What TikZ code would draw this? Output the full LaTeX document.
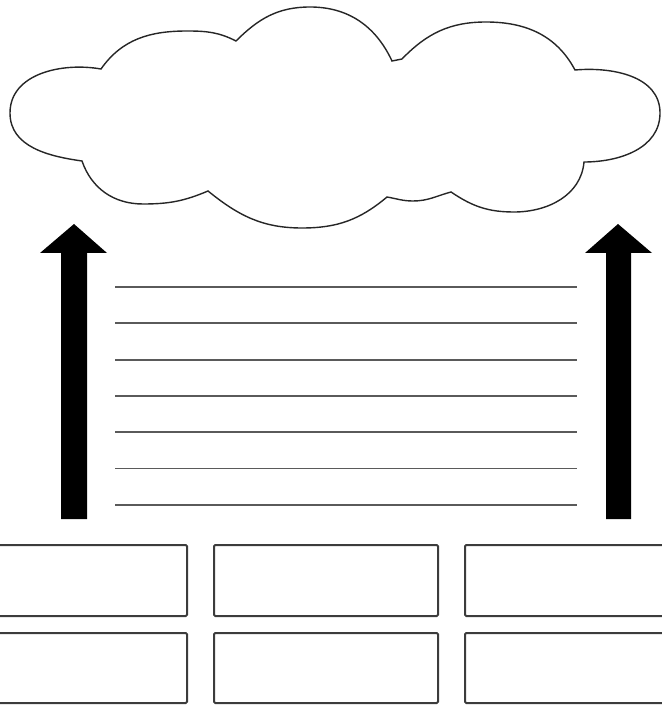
\documentclass[tikz,border=0pt]{standalone}
\usepackage{tikz}

\definecolor{RuleGrey}{RGB}{90,90,90}
\definecolor{BoxGrey}{RGB}{60,60,60}

\begin{document}
\begin{tikzpicture}[x=0.5pt, y=0.5pt,
    cloudline/.style={draw=black!85, line width=0.7pt},
    uparrow/.style={fill=black, draw=none},
    ruleline/.style={draw=RuleGrey, line width=0.9pt},
    brick/.style={draw=BoxGrey, line width=1pt, rounded corners=0.6pt}]
                \useasboundingbox (0,0) rectangle (661,-705);

                % Cloud, one lobe after the other
                \coordinate (ca) at (101,-69);
                \coordinate (cb) at (236,-41);
                \coordinate (cc) at (392,-61);
                \coordinate (cd) at (575,-70);
                \coordinate (ce) at (584,-162);
                \coordinate (cf) at (451,-192);
                \coordinate (cg) at (387,-197);
                \coordinate (ch) at (208,-191);
                \coordinate (ci) at (82,-161);
                \draw[cloudline, fill=white]
                    (ca) to[out=55,in=180] (187,-31) to[out=0,in=153] (cb)
                    to[out=45,in=180] (310,-7) to[out=0,in=115] (cc)
                    -- (402,-59) to[out=46,in=180] (486,-22) to[out=0,in=118] (cd)
                    to[out=5,in=90] (660,-113) to[out=-90,in=0] (ce)
                    to[out=-95,in=0] (514,-212) to[out=180,in=-34] (cf)
                    to[out=-165,in=0] (413,-201) to[out=180,in=-10] (cg)
                    to[out=-140,in=0] (302,-228) to[out=180,in=-39] (ch)
                    to[out=-157,in=0] (143,-204) to[out=180,in=-71] (ci)
                    to[out=172,in=-90] (10,-113) to[out=90,in=170] (ca) -- cycle;

                % Thick arrows on both sides
                \fill[uparrow] (61,-519) -- (61,-253) -- (40,-253) -- (74,-224)
                    -- (107,-253) -- (87,-253) -- (87,-519) -- cycle;
                \fill[uparrow] (606,-519) -- (606,-253) -- (585,-253) -- (618,-224)
                    -- (652,-253) -- (631,-253) -- (631,-519) -- cycle;

                % Ruled lines
                \foreach \i in {0,...,6}
                    \draw[ruleline] (115,-287-36.3*\i) -- (577,-287-36.3*\i);

                % Bricks, two rows of three
                \foreach \xl/\xr in {-8/187, 214/438, 465/669} {
                    \draw[brick] (\xl,-545) rectangle (\xr,-616);
                    \draw[brick] (\xl,-633) rectangle (\xr,-703);
                }
            \end{tikzpicture}
\end{document}
